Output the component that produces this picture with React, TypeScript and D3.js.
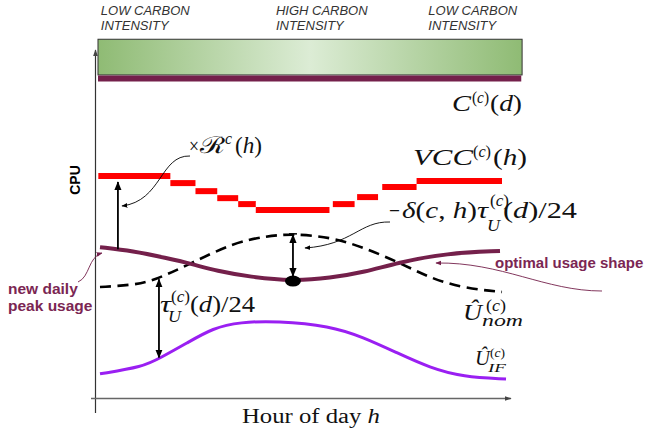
import React from "react";
import * as d3 from "d3";

// ---- data (hour of day, CPU in arbitrary units 0..100) ----
const optHours = [0, 1.97, 3.94, 5.49, 6.96, 8.96, 11.52, 13.73, 15.82, 17.73, 20.72, 23.88];
const optValues = [43.1, 42.0, 40.0, 38.3, 36.3, 34.6, 33.4, 34.3, 36.0, 38.6, 41.4, 42.0];

const nomHours = [0, 1.97, 3.16, 5.49, 7.94, 9.97, 11.52, 13.73, 15.7, 17.91, 19.7, 21.67, 24];
const nomValues = [31.7, 32.3, 33.4, 38.6, 44.3, 46.3, 46.9, 46.0, 43.1, 38.6, 34.3, 31.4, 30.3];

const ifHours = [0, 2.57, 3.58, 5.19, 6.75, 8.36, 10.57, 13.73, 15.7, 17.73, 19.7, 21.67, 24.24];
const ifValues = [6.9, 8.9, 11.4, 15.7, 20.0, 21.7, 22.0, 20.6, 17.4, 12.9, 8.6, 6.0, 5.4];

const stepStart = [-0.1, 4.2, 5.7, 7.0, 8.25, 9.3, 13.9, 15.35, 16.85, 18.9];
const stepEnd = [4.2, 5.7, 7.0, 8.25, 9.3, 13.7, 15.2, 16.6, 18.9, 24];
const stepValue = [63.4, 61.4, 59.1, 57.1, 55.4, 53.7, 55.4, 57.4, 60.3, 62.0];

const capacityValue = 91.3;
const bannerTop = 102.5;
const bannerBottom = 92.3;

const intensityLabels = ["LOW CARBON", "HIGH CARBON", "LOW CARBON"];
const intensityHours = [0.05, 10.5, 19.6];

const ratioArrowHour = 1.07;
const deltaArrowHour = 11.52;
const tauArrowHour = 3.52;

const W = 646;
const H = 434;
const SERIF = "'Liberation Serif', 'Times New Roman', serif";
const SANS = "'Liberation Sans', Arial, sans-serif";

function T(props: any) {
  const { x, y, size = 22, it = false, w, children, fill = "#111" } = props;
  return (
    <text
      x={x}
      y={y}
      fontSize={size}
      fontStyle={it ? "italic" : "normal"}
      fontFamily={SERIF}
      fill={fill}
      textLength={w}
      lengthAdjust={w ? "spacingAndGlyphs" : undefined}
    >
      {children}
    </text>
  );
}
const I = (p: any) => <tspan fontStyle="italic">{p.children}</tspan>;

export default function App() {
  const x = d3.scaleLinear().domain([0, 24]).range([100, 502]);
  const y = d3.scaleLinear().domain([0, 100]).range([398, 48]);

  const line = d3
    .line<[number, number]>()
    .x((d) => x(d[0]))
    .y((d) => y(d[1]))
    .curve(d3.curveBasis);

  const optPts = optHours.map((h, i) => [h, optValues[i]] as [number, number]);
  const nomPts = nomHours.map((h, i) => [h, nomValues[i]] as [number, number]);
  const ifPts = ifHours.map((h, i) => [h, ifValues[i]] as [number, number]);

  const interp = (hs: number[], vs: number[]) => {
    const f = d3.scaleLinear().domain(hs).range(vs);
    return (h: number) => f(h);
  };
  const optAt = interp(optHours, optValues);
  const nomAt = interp(nomHours, nomValues);
  const ifAt = interp(ifHours, ifValues);

  const maroon = "#74204b";

  return (
    <svg
      width={W}
      height={H}
      style={{ position: "absolute", left: 0, top: 0, background: "#fff" }}
    >
      <defs>
        <linearGradient id="green" x1="0" x2="1" y1="0" y2="0">
          <stop offset="0" stopColor="#8fbb74" />
          <stop offset="0.5" stopColor="#dcecd5" />
          <stop offset="1" stopColor="#8fbb74" />
        </linearGradient>
        <marker id="ah" viewBox="0 0 10 10" refX="9" refY="5" markerWidth="9" markerHeight="9" markerUnits="userSpaceOnUse" orient="auto-start-reverse">
          <path d="M0,1 L10,5 L0,9 z" fill="#000" />
        </marker>
        <marker id="ahs" viewBox="0 0 10 10" refX="9" refY="5" markerWidth="6" markerHeight="6" markerUnits="userSpaceOnUse" orient="auto">
          <path d="M0,1 L10,5 L0,9 z" fill="#000" />
        </marker>
        <marker id="ahm" viewBox="0 0 10 10" refX="9" refY="5" markerWidth="6" markerHeight="6" markerUnits="userSpaceOnUse" orient="auto">
          <path d="M0,1 L10,5 L0,9 z" fill={maroon} />
        </marker>
        <marker id="axh" viewBox="0 0 10 10" refX="9" refY="5" markerWidth="7" markerHeight="7" markerUnits="userSpaceOnUse" orient="auto">
          <path d="M0,1.5 L10,5 L0,8.5 z" fill="#444" />
        </marker>
      </defs>

      {/* top labels */}
      {intensityLabels.map((t, i) => (
        <g key={i} fontFamily={SANS} fontStyle="italic" fontSize={13} fill="#333">
          <text x={x(intensityHours[i])} y={15}>{t}</text>
          <text x={x(intensityHours[i])} y={30}>INTENSITY</text>
        </g>
      ))}

      {/* banner */}
      <rect x={x(-0.12)} y={y(bannerTop)} width={x(25.2) - x(-0.12)} height={y(bannerBottom) - y(bannerTop)} fill="url(#green)" stroke="#333" strokeWidth={1} />
      <line x1={x(-0.12)} x2={x(25.15)} y1={y(capacityValue)} y2={y(capacityValue)} stroke={maroon} strokeWidth={6} />

      {/* axes */}
      <line x1={95.5} x2={95.5} y1={413} y2={50} stroke="#333" strokeWidth={1.2} markerEnd="url(#axh)" />
      <line x1={91} x2={511} y1={398.5} y2={398.5} stroke="#666" strokeWidth={1.3} markerEnd="url(#axh)" />

      <text transform="translate(80,180) rotate(-90)" textAnchor="middle" fontFamily={SANS} fontWeight="bold" fontSize={14} fill="#000">CPU</text>

      {/* VCC steps */}
      {stepStart.map((s, i) => (
        <line key={i} x1={x(s)} x2={x(stepEnd[i])} y1={y(stepValue[i])} y2={y(stepValue[i])} stroke="#ff0000" strokeWidth={6} />
      ))}

      {/* curves */}
      <path d={line(ifPts) || ""} fill="none" stroke="#9a1ff2" strokeWidth={3} />
      <path d={line(nomPts) || ""} fill="none" stroke="#000" strokeWidth={2.6} strokeDasharray="11 6.5" />
      <path d={line(optPts) || ""} fill="none" stroke={maroon} strokeWidth={4} />

      {/* ellipse */}
      <ellipse cx={x(deltaArrowHour)} cy={y(optAt(deltaArrowHour))} rx={8} ry={5.5} fill="#000" />

      {/* vertical arrows */}
      <line x1={x(ratioArrowHour)} x2={x(ratioArrowHour)} y1={y(optAt(ratioArrowHour))} y2={y(stepValue[0]) + 6} stroke="#000" strokeWidth={1.8} markerEnd="url(#ah)" />
      <line x1={x(deltaArrowHour)} x2={x(deltaArrowHour)} y1={y(nomAt(deltaArrowHour)) + 1} y2={y(optAt(deltaArrowHour)) - 5} stroke="#000" strokeWidth={1.8} markerStart="url(#ah)" markerEnd="url(#ah)" />
      <line x1={x(deltaArrowHour) - 4} x2={x(deltaArrowHour) + 4} y1={y(nomAt(deltaArrowHour))} y2={y(nomAt(deltaArrowHour))} stroke="#000" strokeWidth={1.5} />
      <line x1={x(tauArrowHour)} x2={x(tauArrowHour)} y1={y(nomAt(tauArrowHour)) + 1} y2={y(ifAt(tauArrowHour)) - 1} stroke="#000" strokeWidth={1.8} markerStart="url(#ah)" markerEnd="url(#ah)" />

      {/* thin annotation curves */}
      <path d="M190,156 C160,155 162,201 122,206" fill="none" stroke="#000" strokeWidth={0.9} markerEnd="url(#ahs)" />
      <path d="M390,222 C360,221 352,245 305,248" fill="none" stroke="#000" strokeWidth={0.9} markerEnd="url(#ahs)" />
      <path d="M78,282 C90,277 88,257 102,253" fill="none" stroke={maroon} strokeWidth={0.9} markerEnd="url(#ahm)" />
      <path d="M602,291 C545,291 502,262 436,263" fill="none" stroke={maroon} strokeWidth={0.9} markerEnd="url(#ahm)" />

      {/* maroon annotation text */}
      <g fontFamily={SANS} fontWeight="bold" fill="#7b2653">
        <text x={8} y={294} fontSize={15.5}>new daily</text>
        <text x={8} y={311} fontSize={15.5}>peak usage</text>
        <text x={495} y={268} fontSize={15}>optimal usage shape</text>
      </g>

      {/* math labels */}
      <T x={452} y={111} it size={23} w={19}>C</T>
      <T x={472} y={102.5} size={16} w={17}>(<I>c</I>)</T>
      <T x={490} y={111} size={23} w={32}>(<I>d</I>)</T>

      <T x={413} y={165} it size={23} w={60}>VCC</T>
      <T x={473} y={157} size={16} w={18}>(<I>c</I>)</T>
      <T x={493} y={165} size={23} w={34}>(<I>h</I>)</T>

      <T x={189} y={153} size={22} w={10}>×</T>
      <T x={200} y={153} size={23} w={25}>ℛ</T>
      <T x={225} y={144} it size={16} w={7}>c</T>
      <T x={235} y={153} size={23} w={27}>(<I>h</I>)</T>

      <T x={389} y={218} size={22} w={11}>−</T>
      <T x={402} y={218} size={23} w={75}><I>δ</I>(<I>c</I>, <I>h</I>)</T>
      <T x={477} y={218} it size={23} w={11}>τ</T>
      <T x={490} y={205.5} size={16} w={19}>(<I>c</I>)</T>
      <T x={487} y={231} it size={16} w={13}>U</T>
      <T x={503} y={218} size={23} w={74}>(<I>d</I>)/24</T>

      <T x={160} y={312} it size={23} w={11}>τ</T>
      <T x={171} y={302} size={16} w={19}>(<I>c</I>)</T>
      <T x={168} y={322} it size={16} w={13}>U</T>
      <T x={190} y={312} size={23} w={65}>(<I>d</I>)/24</T>

      <T x={463} y={320} it size={24} w={19}>Û</T>
      <T x={486} y={311} size={16} w={20}>(<I>c</I>)</T>
      <T x={482} y={326} it size={17} w={41}>nom</T>

      <T x={475} y={365} it size={20} w={15}>Û</T>
      <T x={490} y={357} size={13} w={15}>(<I>c</I>)</T>
      <T x={488} y={372} it size={13} w={18}>IF</T>

      <T x={242} y={423} size={20} w={138}>Hour of day <I>h</I></T>
    </svg>
  );
}
